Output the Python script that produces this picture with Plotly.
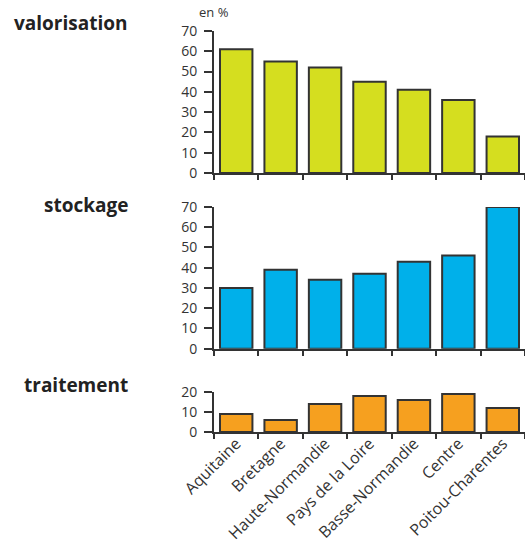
import plotly.graph_objects as go

regions = ["Aquitaine", "Bretagne", "Haute-Normandie", "Pays de la Loire",
           "Basse-Normandie", "Centre", "Poitou-Charentes"]
valorisation = [61, 55, 52, 45, 41, 36, 18]
stockage = [30, 39, 34, 37, 43, 46, 70]
traitement = [9, 6, 14, 18, 16, 19, 12]

panel_titles = ["valorisation", "stockage", "traitement"]
colors = ["#d5de1f", "#00b0ea", "#f6a01f"]
outline = "#333333"
font_family = "Open Sans, DejaVu Sans, sans-serif"
txt = "#333333"

W, H = 525, 544


def px_x(p):
    return p / W


def px_y(p):
    return 1 - p / H


fig = go.Figure()

series = [valorisation, stockage, traitement]
# panel pixel extents (top, bottom) in page px
panels = [(31, 173, 70, [0, 10, 20, 30, 40, 50, 60, 70]),
          (207, 348.7, 70, [0, 10, 20, 30, 40, 50, 60, 70]),
          (392, 432, 20, [0, 10, 20])]

for i, (vals, col) in enumerate(zip(series, colors)):
    n = "" if i == 0 else str(i + 1)
    fig.add_trace(go.Bar(
        x=regions, y=vals, xaxis="x" + n, yaxis="y" + n,
        marker=dict(color=col, line=dict(color=outline, width=2)),
        showlegend=False, hoverinfo="x+y"))
    top, bot, ymax, tv = panels[i]
    fig.layout["xaxis" + n] = dict(
        domain=[px_x(214), px_x(525)], anchor="y" + n, type="category",
        range=[-0.5, 6.5], showline=True, linecolor=outline, linewidth=2,
        ticks="outside", ticklen=5, tickwidth=1.5, tickcolor=outline,
        tickson="boundaries", showgrid=False, zeroline=False,
        showticklabels=(i == 2), tickangle=-45, automargin=False,
        ticklabelstandoff=-6,
        tickfont=dict(family=font_family, size=16, color=txt))
    fig.layout["yaxis" + n] = dict(
        domain=[px_y(bot), px_y(top)], anchor="x" + n,
        range=[0, ymax], tickvals=tv, showline=True, linecolor=outline,
        linewidth=2, ticks="outside", ticklen=8, tickwidth=1.5,
        tickcolor=outline, showgrid=False, zeroline=False,
        ticklabelstandoff=4, automargin=False,
        tickfont=dict(family=font_family, size=14, color=txt))

annotations = []
title_y = [23, 205, 385]
for t, yy in zip(panel_titles, title_y):
    annotations.append(dict(
        text="<b>" + t + "</b>", x=px_x(130), y=px_y(yy), xref="paper", yref="paper",
        xanchor="right", yanchor="middle", showarrow=False,
        font=dict(family=font_family, size=19, color="#222222")))
annotations.append(dict(
    text="en %", x=px_x(197), y=px_y(12), xref="paper", yref="paper",
    xanchor="left", yanchor="middle", showarrow=False,
    font=dict(family=font_family, size=13, color=txt)))

fig.update_layout(
    width=W, height=H, margin=dict(l=0, r=0, t=0, b=0, autoexpand=False),
    paper_bgcolor="white", plot_bgcolor="white", bargap=0.27,
    annotations=annotations)

fig.write_html(
    "out.html",
    config={"displayModeBar": False},
    post_script="document.body.style.margin='0';"
                "document.body.style.overflow='hidden';")
